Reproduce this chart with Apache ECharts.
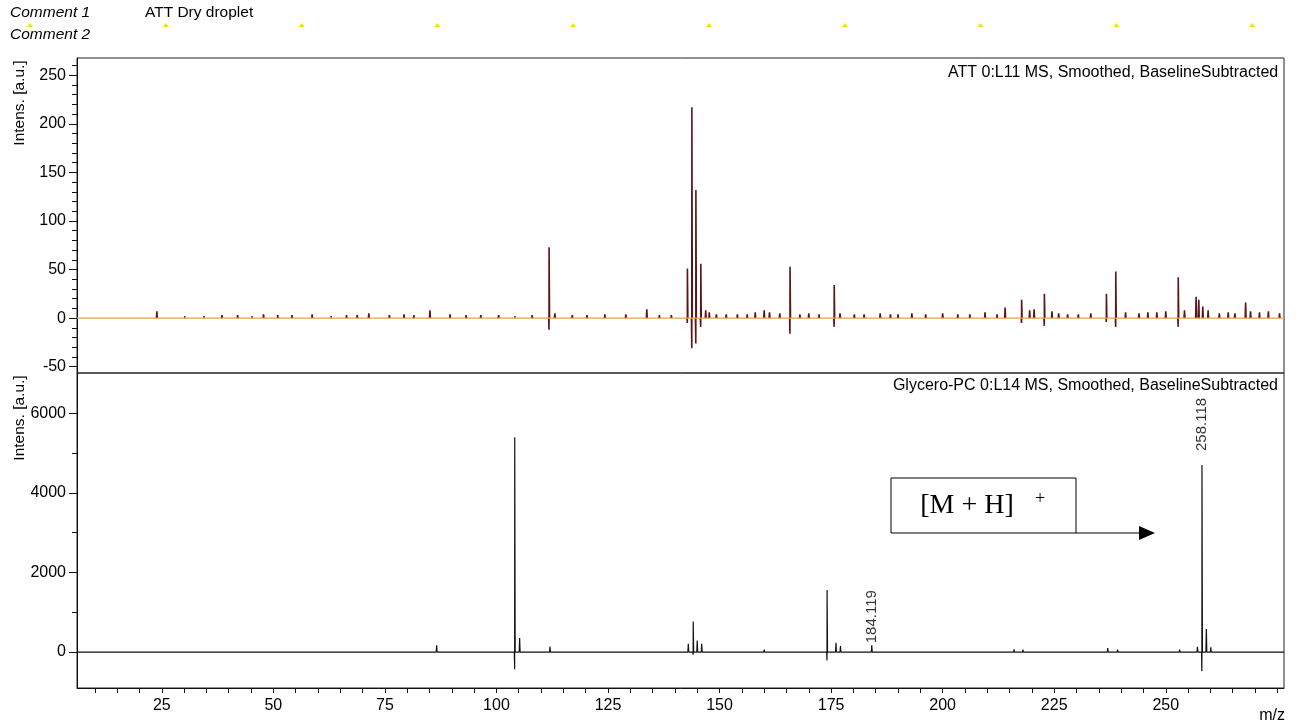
<!DOCTYPE html>
<html><head><meta charset="utf-8">
<script src="https://cdn.jsdelivr.net/npm/echarts@6/dist/echarts.min.js"></script>
<style>html,body{margin:0;padding:0;background:#fff}#c{width:1301px;height:725px}</style>
</head><body><div id="c"></div>
<script>
// ---------- axis ranges & ticks ----------
const xMin = 6, xMax = 276.5;
const xTickValues = [10,15,20,25,30,35,40,45,50,55,60,65,70,75,80,85,90,95,100,105,110,115,120,125,130,135,140,145,150,155,160,165,170,175,180,185,190,195,200,205,210,215,220,225,230,235,240,245,250,255,260,265,270,275];
const xLabelValues = [25,50,75,100,125,150,175,200,225,250];
const topYMin = -56.5, topYMax = 267.8;
const topTickValues = [-50,-40,-30,-20,-10,0,10,20,30,40,50,60,70,80,90,100,110,120,130,140,150,160,170,180,190,200,210,220,230,240,250,260];
const topLabelValues = [-50,0,50,100,150,200,250];
const botYMin = -904, botYMax = 7012;
const botTickValues = [0,1000,2000,3000,4000,5000,6000];
const botLabelValues = [0,2000,4000,6000];

// ---------- top spectrum: ATT 0:L11 ----------
const topMz = [23.9,30.2,34.5,38.5,42.0,45.3,47.8,51.0,54.2,58.7,
  63.0,66.4,68.8,71.4,76.0,79.3,81.5,85.1,89.6,93.2,
  96.5,100.5,104.2,108.0,111.8,113.1,117.0,120.3,124.3,129.0,
  133.7,136.5,139.2,142.8,143.8,144.7,145.8,146.9,147.7,149.3,
  151.5,154.0,156.2,158.0,160.0,161.2,163.5,165.8,168.0,170.0,
  172.3,175.7,177.0,180.2,182.4,186.0,188.3,190.0,193.1,196.2,
  200.0,203.4,206.1,209.5,212.2,214.0,217.7,219.5,220.5,222.8,
  224.5,226.0,228.0,230.4,233.2,236.7,238.8,241.0,244.0,246.0,
  248.0,250.0,252.8,254.2,256.8,257.4,258.3,259.5,262.0,264.0,
  265.5,267.9,269.0,271.0,273.0,275.5];
const topInt = [7,2,2,3,3,2,4,3,3,4,
  2,3,3,5,3,4,3,8,4,3,
  3,3,2,3,73,5,3,3,4,4,
  9,3,3,51,217,132,56,8,6,4,
  4,4,4,6,8,6,5,53,4,5,
  4,34,5,4,4,5,4,4,5,4,
  5,4,4,6,4,11,19,8,9,25,
  7,5,4,4,5,25,48,6,5,6,
  6,7,42,8,22,19,12,8,5,6,
  5,16,7,6,7,5];
const topDipMz  = [111.8,142.8,143.8,144.7,145.8,165.8,175.7,217.7,222.8,236.7,238.8,252.8];
const topDipVal = [-12,-5,-31,-26,-9,-16,-9,-5,-8,-4,-9,-9];

// ---------- bottom spectrum: Glycero-PC 0:L14 ----------
const botMz = [58.7,86.6,104.1,105.2,112.0,119.5,126.0,132.0,143.0,144.1,
  145.0,146.0,150.0,160.0,166.0,174.1,176.1,177.1,184.119,190.0,
  198.0,205.0,210.0,216.0,218.0,222.0,232.0,237.0,239.2,245.0,
  253.1,257.1,258.118,259.1,260.1,264.0,270.0];
const botInt = [30,170,5400,350,140,25,20,25,210,770,
  290,210,25,60,25,1560,230,150,170,25,
  50,25,30,70,60,30,30,100,60,30,
  60,130,4700,580,120,30,25];
const botDipMz  = [104.1,144.1,174.1,258.118];
const botDipVal = [-430,-70,-210,-480];
const labelMz = [184.119, 258.118];

// ---------- build series data ----------
function dipFor(m, dm, dv){ const i = dm.indexOf(m); return i >= 0 ? dv[i] : null; }
const HW = 0.1;
const topData = [];
topMz.forEach((m,i)=>{
  const d = dipFor(m, topDipMz, topDipVal);
  topData.push([m-HW,0]);
  if (d !== null) topData.push([m-0.02,d]);
  topData.push([m,topInt[i]]);
  topData.push([m+HW,0]);
  topData.push([m+HW,'-']);
});
const botPts = [[xMin,0],[xMax,0]];
botMz.forEach((m,i)=>{
  const d = dipFor(m, botDipMz, botDipVal);
  botPts.push([m-HW,0]);
  if (d !== null) botPts.push([m-0.02,d]);
  botPts.push([m,botInt[i]]);
  botPts.push([m+HW,0]);
});
botPts.sort((a,b)=>a[0]-b[0]);
const labelDist = {184.119: 2, 258.118: 14};
const labelData = labelMz.map(m=>({value:[m, botInt[botMz.indexOf(m)]], label:{distance:labelDist[m]}}));

const FONT = '"Liberation Sans", Arial, sans-serif';
const chart = echarts.init(document.getElementById('c'), null, {renderer:'canvas'});

function yMajor(grid, min, max, labels){
  return {gridIndex:grid, type:'value', min:min, max:max, position:'left',
    axisLine:{show:true, lineStyle:{color:'#111', width:1}},
    axisTick:{show:true, length:8, customValues:labels, lineStyle:{color:'#111'}},
    axisLabel:{show:true, customValues:labels, color:'#000', fontSize:16, fontFamily:FONT, margin:11,
      formatter:v=>String(v)},
    splitLine:{show:false}};
}
function yMinor(grid, min, max, ticks){
  return {gridIndex:grid, type:'value', min:min, max:max, position:'left', offset:0,
    axisLine:{show:false},
    axisTick:{show:true, length:5, customValues:ticks, lineStyle:{color:'#111'}},
    axisLabel:{show:false}, splitLine:{show:false}};
}

// decorative yellow comment markers
const markerGraphics = [];
for (let k=0;k<10;k++){
  const x = 30 + 135.8*k, y = 25;
  markerGraphics.push({type:'polygon', shape:{points:[[x-3,y+2],[x,y-2],[x+3,y+2]]}, style:{fill:'#f2e20a'}, silent:true});
}

const option = {
  animation:false,
  backgroundColor:'#fff',
  grid:[
    {left:77, right:17, top:58, height:315, show:true, borderColor:'#222', borderWidth:1, backgroundColor:'transparent'},
    {left:77, right:17, top:373, height:315, show:true, borderColor:'#222', borderWidth:1, backgroundColor:'transparent'}
  ],
  xAxis:[
    {gridIndex:0, type:'value', min:xMin, max:xMax, axisLine:{show:false}, axisTick:{show:false}, axisLabel:{show:false}, splitLine:{show:false}},
    {gridIndex:1, type:'value', min:xMin, max:xMax,
      axisLine:{show:true, onZero:false, lineStyle:{color:'#111'}},
      axisTick:{show:true, length:5, customValues:xTickValues, lineStyle:{color:'#111'}},
      axisLabel:{show:true, customValues:xLabelValues, color:'#000', fontSize:16, fontFamily:FONT, margin:10,
        formatter:v=>String(v)},
      splitLine:{show:false}}
  ],
  yAxis:[
    yMajor(0, topYMin, topYMax, topLabelValues),
    yMinor(0, topYMin, topYMax, topTickValues),
    yMajor(1, botYMin, botYMax, botLabelValues),
    yMinor(1, botYMin, botYMax, botTickValues)
  ],
  series:[
    {type:'line', xAxisIndex:0, yAxisIndex:0, data:topData, showSymbol:false, symbol:'none', connectNulls:false,
      lineStyle:{color:'#5a1616', width:1.6}, z:2, silent:true},
    {type:'line', xAxisIndex:0, yAxisIndex:0, data:[[xMin,0],[xMax,0]], showSymbol:false, symbol:'none',
      lineStyle:{color:'#e8a23c', width:1.4}, z:3, silent:true},
    {type:'line', xAxisIndex:1, yAxisIndex:2, data:botPts, showSymbol:false, symbol:'none',
      lineStyle:{color:'#111', width:1.2}, z:2, silent:true},
    {type:'scatter', xAxisIndex:1, yAxisIndex:2, data:labelData, symbolSize:0, silent:true,
      label:{show:true, position:'top', rotate:90, align:'left', verticalAlign:'middle',
        formatter:p=>p.value[0].toFixed(3), fontSize:15, fontFamily:FONT, color:'#000'}}
  ],
  graphic:[
    {type:'text', x:10, y:12.5, silent:true, style:{text:'Comment 1', font:'italic 15.5px '+FONT, fill:'#000', align:'left', verticalAlign:'middle'}},
    {type:'text', x:145, y:12.5, silent:true, style:{text:'ATT Dry droplet', font:'15.5px '+FONT, fill:'#000', align:'left', verticalAlign:'middle'}},
    {type:'text', x:10, y:35, silent:true, style:{text:'Comment 2', font:'italic 15.5px '+FONT, fill:'#000', align:'left', verticalAlign:'middle'}},
    ...markerGraphics,
    {type:'text', x:948, y:73, silent:true, style:{text:'ATT 0:L11 MS, Smoothed, BaselineSubtracted', font:'16px '+FONT, fill:'#000', align:'left', verticalAlign:'middle'}},
    {type:'text', x:1278, y:386, silent:true, style:{text:'Glycero-PC 0:L14 MS, Smoothed, BaselineSubtracted', font:'16px '+FONT, fill:'#000', align:'right', verticalAlign:'middle'}},
    {type:'text', x:20, y:103, rotation:Math.PI/2, silent:true, style:{text:'Intens. [a.u.]', font:'15.5px '+FONT, fill:'#000', align:'center', verticalAlign:'middle'}},
    {type:'text', x:20, y:418, rotation:Math.PI/2, silent:true, style:{text:'Intens. [a.u.]', font:'15.5px '+FONT, fill:'#000', align:'center', verticalAlign:'middle'}},
    {type:'text', x:1285, y:716, silent:true, style:{text:'m/z', font:'16px '+FONT, fill:'#000', align:'right', verticalAlign:'middle'}},
    {type:'rect', silent:true, shape:{x:891, y:478, width:185, height:55}, style:{fill:'#fff', stroke:'#000', lineWidth:1}},
    {type:'text', x:967, y:506, silent:true, style:{text:'[M + H]', font:'28px "Liberation Serif", "DejaVu Serif", serif', fill:'#000', align:'center', verticalAlign:'middle'}},
    {type:'text', x:1040, y:499, silent:true, style:{text:'+', font:'18px "Liberation Serif", "DejaVu Serif", serif', fill:'#000', align:'center', verticalAlign:'middle'}},
    {type:'line', silent:true, shape:{x1:1076, y1:533, x2:1141, y2:533}, style:{stroke:'#000', lineWidth:1.2}},
    {type:'polygon', silent:true, shape:{points:[[1139,526],[1155,533],[1139,540]]}, style:{fill:'#000'}}
  ]
};
chart.setOption(option);
</script>
</body></html>
